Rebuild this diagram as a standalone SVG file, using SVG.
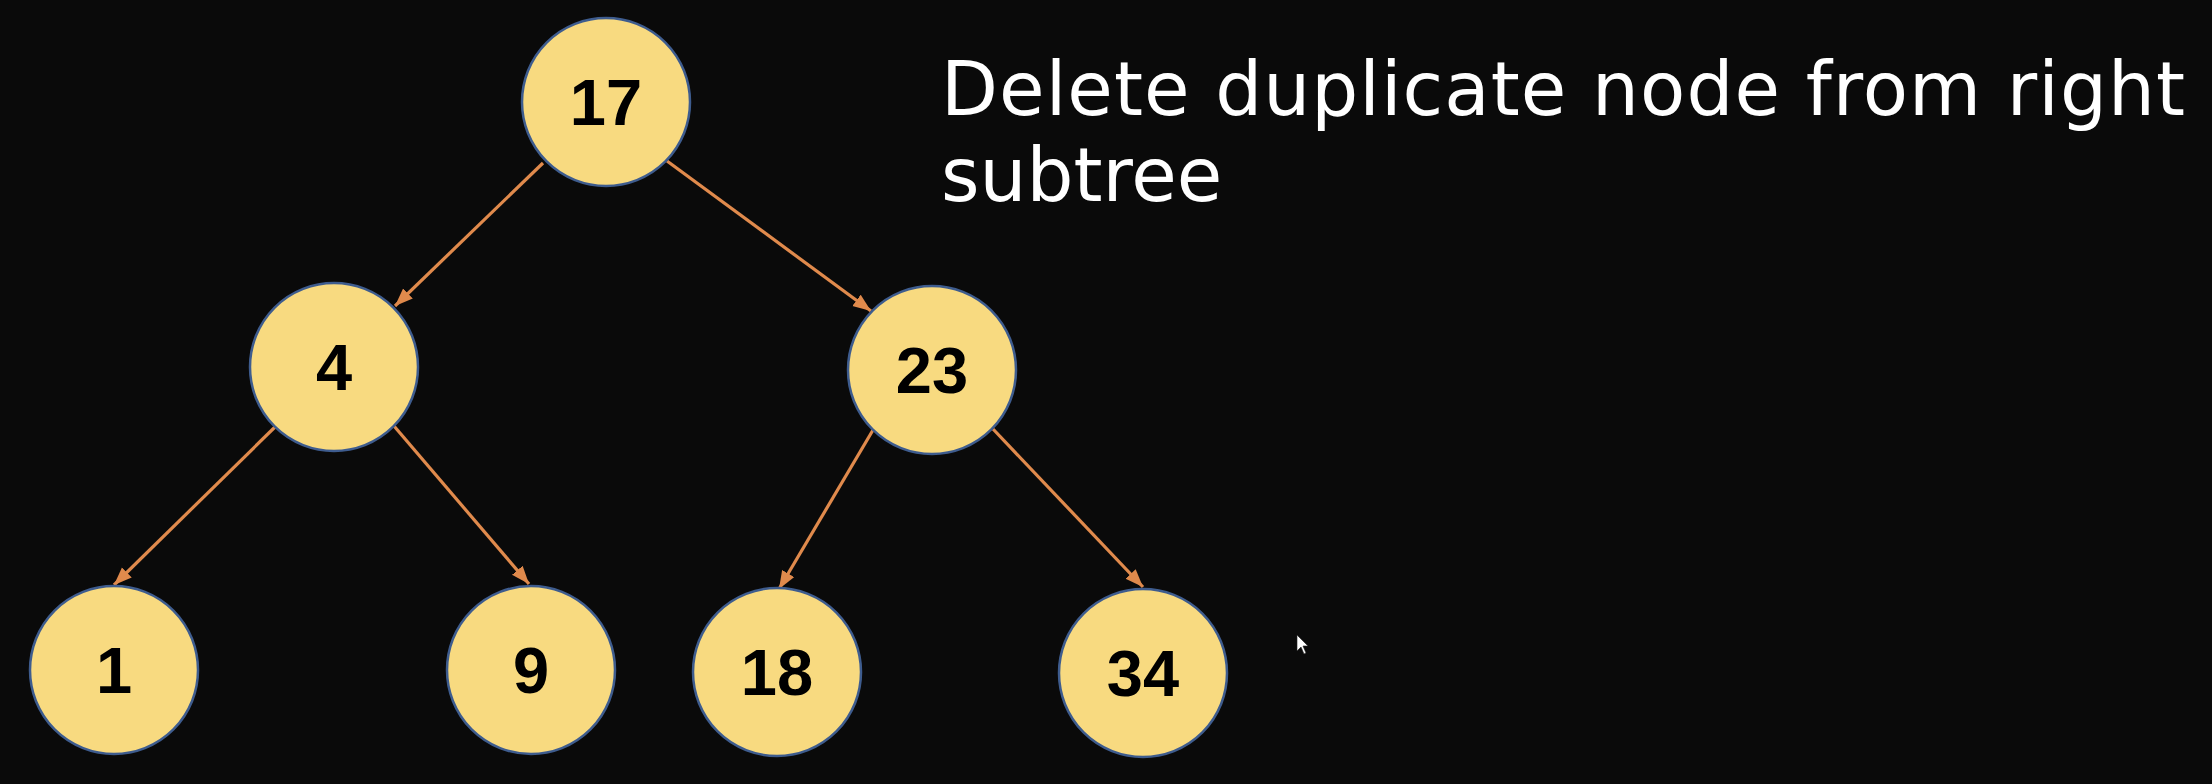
<svg xmlns="http://www.w3.org/2000/svg" width="2212" height="784" viewBox="0 0 2212 784">
<defs>
<style>
.node circle{fill:#F8DA80;stroke:#3E5C8E;stroke-width:2.5}
.node text{font-family:"Liberation Sans",Arial,sans-serif;font-weight:bold;font-size:65px;fill:#000;text-anchor:middle}
.edge{stroke:#E08A4C;stroke-width:3.2;fill:none;marker-end:url(#arrow)}
.title{font-family:"DejaVu Sans","Open Sans",sans-serif;font-size:74px;fill:#FFFFFF}
</style>
<marker id="arrow" markerUnits="userSpaceOnUse" markerWidth="20" markerHeight="16" refX="18" refY="7" orient="auto">
<path d="M0,0 L18,7 L0,14 z" fill="#E08A4C"/>
</marker>
</defs>
<rect width="2212" height="784" fill="#0A0A0A"/>
<g id="connectors">
<line class="edge" x1="543" y1="163" x2="395" y2="306"/>
<line class="edge" x1="667" y1="161" x2="871" y2="311"/>
<line class="edge" x1="275" y1="427" x2="114" y2="585"/>
<line class="edge" x1="394" y1="426" x2="529" y2="584"/>
<line class="edge" x1="873" y1="430" x2="779" y2="589"/>
<line class="edge" x1="993" y1="429" x2="1143" y2="587"/>
</g>
<g id="node-17" class="node"><circle cx="606" cy="102" r="84"/><text x="606" y="125">17</text></g>
<g id="node-4" class="node"><circle cx="334" cy="367" r="84"/><text x="334" y="390">4</text></g>
<g id="node-23" class="node"><circle cx="932" cy="370" r="84"/><text x="932" y="393">23</text></g>
<g id="node-1" class="node"><circle cx="114" cy="670" r="84"/><text x="114" y="693">1</text></g>
<g id="node-9" class="node"><circle cx="531" cy="670" r="84"/><text x="531" y="693">9</text></g>
<g id="node-18" class="node"><circle cx="777" cy="672" r="84"/><text x="777" y="695">18</text></g>
<g id="node-34" class="node"><circle cx="1143" cy="673" r="84"/><text x="1143" y="696">34</text></g>
<g id="caption">
<text class="title" x="941" y="115" textLength="1244" lengthAdjust="spacing">Delete duplicate node from right</text>
<text class="title" x="941" y="201">subtree</text>
</g>
<path d="M1297,635 L1297,651 L1301,647 L1304,654 L1306,653 L1303,646 L1308,646 Z" fill="#FFFFFF" stroke="#222" stroke-width="0.6"/>
</svg>
